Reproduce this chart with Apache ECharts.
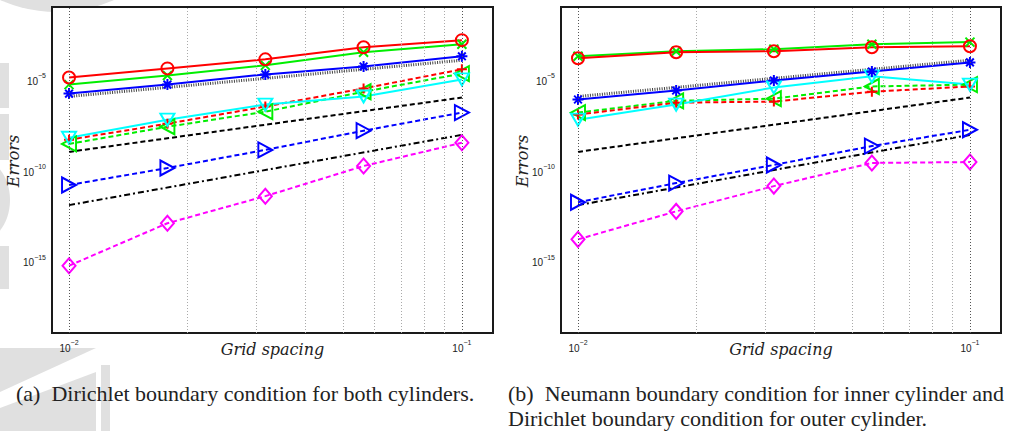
<!DOCTYPE html>
<html><head><meta charset="utf-8">
<script src="https://cdn.jsdelivr.net/npm/echarts@6/dist/echarts.min.js"></script>
<style>html,body{margin:0;padding:0;background:#fff}#c{width:1011px;height:431px}</style>
</head><body><div id="c"></div>
<script>
// ---------- data ----------
const gridSpacing = [0.01, 0.0178, 0.0316, 0.0562, 0.1];
const refSpacing = [0.01, 0.1];
const minorGridX = [0.02, 0.03, 0.04, 0.05, 0.06, 0.07, 0.08, 0.09];
const majorGridX = [0.01, 0.1];
const majorGridY = [1e-5, 1e-10, 1e-15];
const xAxisName = 'Grid spacing';
const yAxisName = 'Errors';
const captionA = '(a)  Dirichlet boundary condition for both cylinders.';
const captionB1 = '(b)  Neumann boundary condition for inner cylinder and';
const captionB2 = 'Dirichlet boundary condition for outer cylinder.';

// panel (a): Dirichlet / Dirichlet
const aRedCircle    = [1.29e-5, 4.07e-5, 1.29e-4, 6.0e-4, 1.48e-3];
const aGreenCross   = [5.2e-6, 1.66e-5, 6.0e-5, 3.2e-4, 8.7e-4];
const aBlueStar     = [1.66e-6, 5.2e-6, 1.9e-5, 5.2e-5, 1.9e-4];
const aCyanTriDown  = [6.0e-9, 6.0e-8, 4.1e-7, 1.15e-6, 1.0e-5];
const aRedPlus      = [4.7e-9, 3.6e-8, 3.2e-7, 3.2e-6, 3.6e-5];
const aGreenTriLeft = [2.75e-9, 2.45e-8, 1.66e-7, 2.1e-6, 2.1e-5];
const aBlueTriRight = [1.48e-11, 1.29e-10, 1.29e-9, 1.48e-8, 1.48e-7];
const aMagDiamond   = [5.2e-16, 1.15e-13, 3.6e-12, 1.66e-10, 3.2e-9];
const aRefOrder2    = [1.15e-6, 1.15e-4];
const aRefOrder3    = [1.0e-9, 1.0e-6];
const aRefOrder4    = [1.15e-12, 8.7e-9];

// panel (b): Neumann inner / Dirichlet outer
const bRedCircle    = [1.48e-4, 3.2e-4, 3.6e-4, 6.0e-4, 6.8e-4];
const bGreenCross   = [1.9e-4, 3.6e-4, 4.7e-4, 8.7e-4, 1.15e-3];
const bBlueStar     = [7.8e-7, 2.45e-6, 8.7e-6, 2.75e-5, 8.7e-5];
const bCyanTriDown  = [6.0e-8, 4.1e-7, 3.6e-6, 1.48e-5, 5.2e-6];
const bRedPlus      = [1.15e-7, 5.2e-7, 6.0e-7, 2.1e-6, 4.1e-6];
const bGreenTriLeft = [1.48e-7, 6.6e-7, 8.7e-7, 4.1e-6, 5.2e-6];
const bBlueTriRight = [1.66e-12, 1.9e-11, 1.9e-10, 2.1e-9, 1.66e-8];
const bMagDiamond   = [1.48e-14, 5.2e-13, 1.29e-11, 2.45e-10, 2.75e-10];
const bRefOrder2    = [1.15e-6, 1.15e-4];
const bRefOrder3    = [1.0e-9, 1.0e-6];
const bRefOrder4    = [1.15e-12, 8.7e-9];

// ---------- styles ----------
const SYM = {
  circle: 'path://M10,5A5,5,0,1,1,0,5A5,5,0,1,1,10,5Z',
  cross: 'path://M0,0L10,10M10,0L0,10',
  star: 'path://M5,0L5,10M0,5L10,5M1.5,1.5L8.5,8.5M8.5,1.5L1.5,8.5',
  plus: 'path://M5,0L5,10M0,5L10,5',
  triDown: 'path://M0,0L10,0L5,9Z',
  triLeft: 'path://M0,5L9,0L9,10Z',
  triRight: 'path://M0,0L9,5L0,10Z',
  diamond: 'path://M5,0L10,5L5,10L0,5Z'
};
const DASH = [5, 3];
const seriesStyles = [
  {key: 'RefOrder2', color: '#444', type: [1, 1.4], width: 3, ref: true},
  {key: 'RefOrder3', color: '#000', type: [5, 3], width: 2, ref: true},
  {key: 'RefOrder4', color: '#000', type: [6, 3, 2, 3], width: 2, ref: true},
  {key: 'MagDiamond', color: '#ff00ff', type: DASH, width: 2, sym: SYM.diamond, size: [13, 15]},
  {key: 'BlueTriRight', color: '#0000ff', type: DASH, width: 2, sym: SYM.triRight, size: [14, 15]},
  {key: 'GreenTriLeft', color: '#00ee00', type: DASH, width: 2, sym: SYM.triLeft, size: [14, 15]},
  {key: 'RedPlus', color: '#ff0000', type: DASH, width: 2, sym: SYM.plus, size: 10},
  {key: 'CyanTriDown', color: '#00ffff', type: 'solid', width: 2, sym: SYM.triDown, size: [14, 12]},
  {key: 'BlueStar', color: '#0000ff', type: 'solid', width: 2, sym: SYM.star, size: 11},
  {key: 'GreenCross', color: '#00ee00', type: 'solid', width: 2, sym: SYM.cross, size: 9},
  {key: 'RedCircle', color: '#ff0000', type: 'solid', width: 2, sym: SYM.circle, size: 12}
];
const panelData = {
  a: {RedCircle: aRedCircle, GreenCross: aGreenCross, BlueStar: aBlueStar, CyanTriDown: aCyanTriDown,
      RedPlus: aRedPlus, GreenTriLeft: aGreenTriLeft, BlueTriRight: aBlueTriRight, MagDiamond: aMagDiamond,
      RefOrder2: aRefOrder2, RefOrder3: aRefOrder3, RefOrder4: aRefOrder4},
  b: {RedCircle: bRedCircle, GreenCross: bGreenCross, BlueStar: bBlueStar, CyanTriDown: bCyanTriDown,
      RedPlus: bRedPlus, GreenTriLeft: bGreenTriLeft, BlueTriRight: bBlueTriRight, MagDiamond: bMagDiamond,
      RefOrder2: bRefOrder2, RefOrder3: bRefOrder3, RefOrder4: bRefOrder4}
};

const TXT = '#222';
const tickRich = {
  b: {fontSize: 10, fontFamily: 'Liberation Sans', color: TXT, lineHeight: 14, verticalAlign: 'bottom'},
  s: {fontSize: 7, fontFamily: 'Liberation Sans', color: TXT, lineHeight: 6, verticalAlign: 'top'}
};
function powLabel(v, step) {
  const e = Math.log10(v), r = Math.round(e);
  if (Math.abs(e - r) > 1e-6 || r % step !== 0 || r === 0) return '';
  return '{b|10}{s|\u2212' + (-r) + '}';
}
const nameStyle = {fontFamily: 'DejaVu Serif', fontStyle: 'italic', fontSize: 16, color: TXT};

function makeSeries(panel, idx) {
  const out = [];
  out.push({
    type: 'line', xAxisIndex: idx, yAxisIndex: idx, data: [], silent: true, z: 1,
    markLine: {
      silent: true, symbol: ['none', 'none'], label: {show: false}, animation: false,
      emphasis: {disabled: true},
      data: [
        ...minorGridX.map(v => ({xAxis: v, lineStyle: {color: '#aaa', type: [1, 2], width: 1}})),
        ...majorGridX.map(v => ({xAxis: v, lineStyle: {color: '#555', type: [1, 2], width: 1}})),
        ...majorGridY.map(v => ({yAxis: v, lineStyle: {color: '#777', type: [1, 2], width: 1}}))
      ]
    }
  });
  seriesStyles.forEach(st => {
    const vals = panelData[panel][st.key];
    const xs = st.ref ? refSpacing : gridSpacing;
    const s = {
      type: 'line', xAxisIndex: idx, yAxisIndex: idx, z: 3,
      data: xs.map((x, i) => [x, vals[i]]),
      lineStyle: {color: st.color, type: st.type, width: st.width},
      emphasis: {disabled: true}, silent: true, animation: false
    };
    if (st.ref) {
      s.showSymbol = false; s.symbol = 'none';
    } else {
      s.symbol = st.sym; s.symbolSize = st.size; s.showAllSymbol = true;
      s.itemStyle = {color: 'rgba(0,0,0,0)', borderColor: st.color, borderWidth: 2};
    }
    out.push(s);
  });
  return out;
}

function xAxisDef(idx) {
  return {
    type: 'log', logBase: 10, gridIndex: idx, min: 0.00905, max: 0.12,
    axisLine: {show: false}, axisTick: {show: false}, splitLine: {show: false},
    axisLabel: {margin: 6, formatter: v => powLabel(v, 1), rich: tickRich, showMinLabel: true, showMaxLabel: true},
    name: xAxisName, nameLocation: 'middle', nameGap: 8, nameMoveOverlap: false, nameTextStyle: nameStyle
  };
}
function yAxisDef(idx) {
  return {
    type: 'log', logBase: 10, gridIndex: idx, min: 1e-19, max: 1e-1, interval: 1,
    axisLine: {show: false}, axisTick: {show: false}, splitLine: {show: false},
    axisLabel: {margin: 6, formatter: v => powLabel(v, 5), rich: tickRich},
    name: yAxisName, nameLocation: 'middle', nameGap: 31, nameRotate: 90, nameMoveOverlap: false,
    nameTextStyle: Object.assign({padding: [0, 0, 0, 18]}, nameStyle)
  };
}

const WM = '#e0e0e0';
const capStyle = {fontFamily: 'Liberation Serif', fontSize: 22, fontWeight: 'normal', color: TXT, lineHeight: 25};
const chart = echarts.init(document.getElementById('c'), null, {renderer: 'svg'});
chart.setOption({
  animation: false,
  backgroundColor: '#fff',
  grid: [
    {left: 52, top: 7, width: 441, height: 326, show: true, backgroundColor: '#fff', borderColor: '#1a1a1a', borderWidth: 2, containLabel: false, outerBoundsMode: 'none'},
    {left: 561, top: 7, width: 440, height: 326, show: true, backgroundColor: '#fff', borderColor: '#1a1a1a', borderWidth: 2, containLabel: false, outerBoundsMode: 'none'}
  ],
  xAxis: [xAxisDef(0), xAxisDef(1)],
  yAxis: [yAxisDef(0), yAxisDef(1)],
  series: [...makeSeries('a', 0), ...makeSeries('b', 1)],
  title: [
    {text: captionA, left: 16, top: 381, padding: 0, textStyle: capStyle},
    {text: captionB1 + '\n' + captionB2, left: 508, top: 381, padding: 0, textStyle: capStyle}
  ],
  graphic: [
    {type: 'circle', shape: {cx: 57, cy: -129, r: 141}, style: {fill: WM}, z: -10, silent: true},
    {type: 'rect', shape: {x: 0, y: 63, width: 9, height: 45}, style: {fill: WM}, z: -10, silent: true},
    {type: 'rect', shape: {x: 0, y: 114, width: 9, height: 46}, style: {fill: WM}, z: -10, silent: true},
    {type: 'ellipse', shape: {cx: -22, cy: 200, rx: 32, ry: 42}, style: {fill: WM}, z: -10, silent: true},
    {type: 'rect', shape: {x: 0, y: 246, width: 9, height: 43}, style: {fill: WM}, z: -10, silent: true},
    {type: 'polygon', shape: {points: [[0, 348], [96, 348], [0, 392]]}, style: {fill: WM}, z: -10, silent: true},
    {type: 'polygon', shape: {points: [[0, 408], [96, 372], [96, 431], [0, 431]]}, style: {fill: WM}, z: -10, silent: true},
    {type: 'rect', shape: {x: 101, y: 365, width: 9, height: 66}, style: {fill: WM}, z: -10, silent: true}
  ]
});
</script></body></html>
